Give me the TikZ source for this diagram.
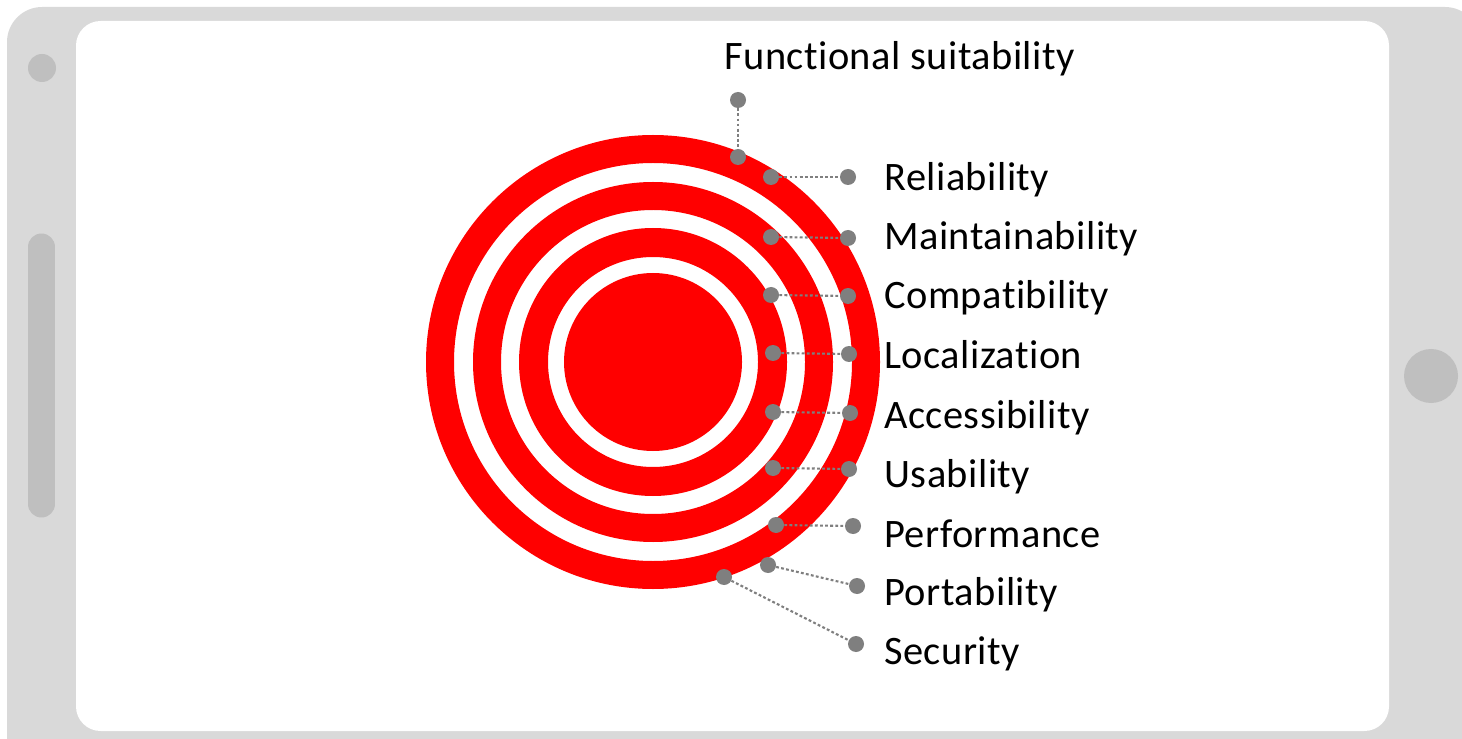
\documentclass[tikz,border=0pt]{standalone}
\usepackage{fontspec}
\setmainfont{Carlito}[Ligatures=NoCommon, LetterSpace=1.2]
\definecolor{phone}{HTML}{D9D9D9}
\definecolor{knob}{HTML}{BFBFBF}
\definecolor{pin}{HTML}{7F7F7F}
\tikzset{
	dot/.style={circle, fill=pin, inner sep=0pt, minimum size=0.32cm},
	leader/.style={draw=pin, line width=1.2pt, dash pattern=on 1.6pt off 1.3pt}, % the dotted leaders
	attr/.style={anchor=base west, inner sep=0pt, font=\fontsize{23}{27}\selectfont},
	ring/.style={fill=red, even odd rule},
}
\begin{document}
\begin{tikzpicture}[x=0.02cm, y=-0.02cm]
	\useasboundingbox (0,0) rectangle (1462,739);
	\clip (0,0) rectangle (1462,739);

	% phone
	\fill[phone, rounded corners=20] (7,7) rectangle (1480,780);
	\fill[white, rounded corners=14] (76,21) rectangle (1389,731);
	\fill[knob] (42,68) circle[radius=14];
	\draw[knob, line width=0.54cm, line cap=round] (41.5,247) -- (41.5,504);
	\fill[knob] (1431,376) circle[radius=27];

	% target
	\coordinate (c) at (653,362);
	\fill[ring] (c) circle[radius=227] circle[radius=199];
	\fill[ring] (c) circle[radius=180] circle[radius=152];
	\fill[ring] (c) circle[radius=134] circle[radius=105];
	\fill[red] (c) circle[radius=89];

	\node[dot] (fs1) at (738,100) {};
	\node[dot] (fs2) at (738,157) {};
	\node[dot] (rel1) at (771,177) {};
	\node[dot] (rel2) at (848,177) {};
	\node[dot] (mai1) at (771,237) {};
	\node[dot] (mai2) at (848,238) {};
	\node[dot] (com1) at (771,295) {};
	\node[dot] (com2) at (848,296) {};
	\node[dot] (loc1) at (773,353) {};
	\node[dot] (loc2) at (849,354) {};
	\node[dot] (acc1) at (773,412) {};
	\node[dot] (acc2) at (850,413) {};
	\node[dot] (usa1) at (773,468) {};
	\node[dot] (usa2) at (849,469) {};
	\node[dot] (per1) at (776,525) {};
	\node[dot] (per2) at (853,526) {};
	\node[dot] (por1) at (768,565) {};
	\node[dot] (por2) at (857,586) {};
	\node[dot] (sec1) at (724,577) {};
	\node[dot] (sec2) at (856,644) {};

	\draw	(fs1) edge[leader] (fs2)
			(rel1) edge[leader] (rel2)
			(mai1) edge[leader] (mai2)
			(com1) edge[leader] (com2)
			(loc1) edge[leader] (loc2)
			(acc1) edge[leader] (acc2)
			(usa1) edge[leader] (usa2)
			(per1) edge[leader] (per2)
			(por1) edge[leader] (por2)
			(sec1) edge[leader] (sec2);

	\node[attr] (fs) at (724,70) {Functional suitability};
	\node[attr] (rel) at (884,191) {Reliability};
	\node[attr] (mai) at (884,250) {Maintainability};
	\node[attr] (com) at (884,309) {Compatibility};
	\node[attr] (loc) at (884,369) {Localization};
	\node[attr] (acc) at (884,428) {Accessibility};
	\node[attr] (usa) at (884,487) {Usability};
	\node[attr] (per) at (884,547) {Performance};
	\node[attr] (por) at (884,605) {Portability};
	\node[attr] (sec) at (884,664) {Security};
\end{tikzpicture}
\end{document}
